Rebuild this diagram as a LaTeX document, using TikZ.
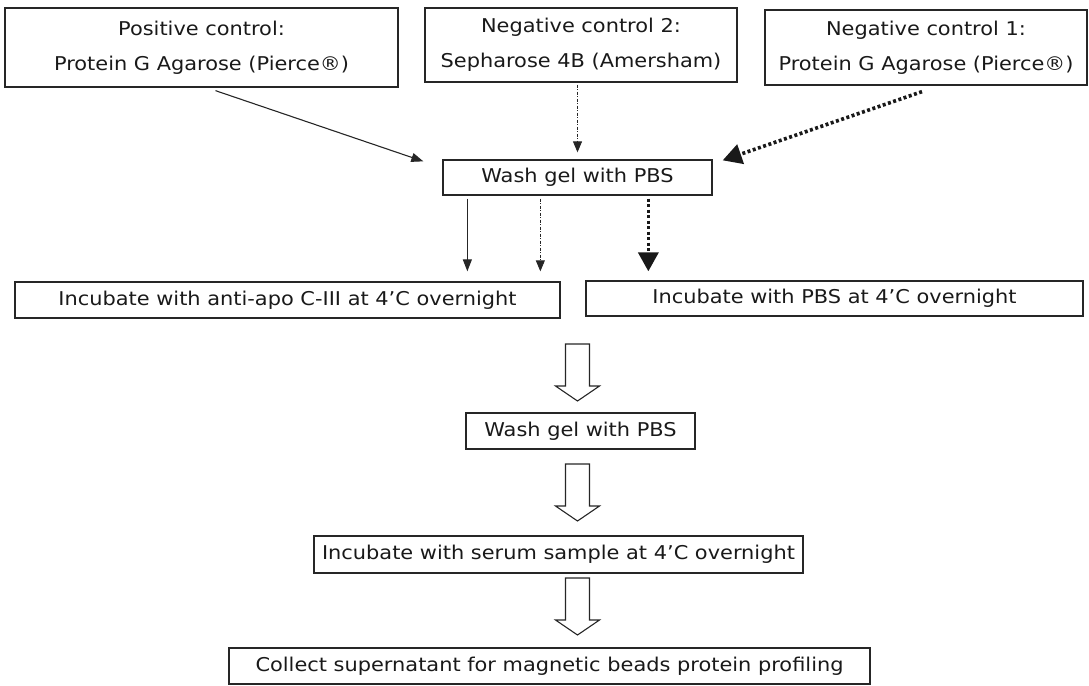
\documentclass[tikz,border=0pt]{standalone}
\usepackage{fontspec}
\setmainfont[FakeStretch=1.1]{DejaVu Sans}
\usetikzlibrary{arrows.meta,calc}
\begin{document}
\begin{tikzpicture}[x=1pt,y=-1pt,
  box/.style={draw=black!85, line width=1.3pt, inner sep=0pt, align=center,
    font=\fontsize{19}{35}\selectfont, text=black!90},
  thinarr/.style={draw=black!85, line width=1.1pt, -{Triangle[length=12pt,width=9pt]}},
  finearr/.style={draw=black!85, line width=0.9pt, dash pattern=on 3pt off 1.5pt on 1pt off 1.5pt, -{Triangle[length=11pt,width=9pt]}},
  boldarr/.style={draw=black!90, line width=3.6pt, dash pattern=on 3pt off 2.5pt, -{Triangle[length=19pt,width=20pt]}},
  hollow/.style={draw=black!85, line width=1.1pt, fill=white, line join=miter}
]
\useasboundingbox (0,0) rectangle (1089,685);

% top row
\node[box, minimum width=393pt, minimum height=79pt] (pos) at (201.5,47.5)
  {Positive control:\\Protein G Agarose (Pierce®)};
\node[box, minimum width=312pt, minimum height=74pt] (neg2) at (581,45)
  {Negative control 2:\\Sepharose 4B (Amersham)};
\node[box, minimum width=322pt, minimum height=75pt] (neg1) at (926,47.5)
  {Negative control 1:\\Protein G Agarose (Pierce®)};

% wash 1
\node[box, minimum width=269pt, minimum height=35pt] (wash1) at (577.5,177.5) {Wash gel with PBS};

% incubation row
\node[box, minimum width=545pt, minimum height=36pt] (incA) at (287.5,300)
  {Incubate with anti-apo C-III at 4'C overnight};
\node[box, minimum width=497pt, minimum height=35pt] (incP) at (834.5,298.5)
  {Incubate with PBS at 4'C overnight};

\node[box, minimum width=229pt, minimum height=36pt] (wash2) at (580.5,431) {Wash gel with PBS};
\node[box, minimum width=489pt, minimum height=37pt] (serum) at (558.5,554.5)
  {Incubate with serum sample at 4'C overnight};
\node[box, minimum width=641pt, minimum height=36pt] (collect) at (549.5,666)
  {Collect supernatant for magnetic beads protein profiling};

% arrows into wash 1
\draw[thinarr] ([xshift=14pt,yshift=-3pt]pos.south) -- ([xshift=-19pt,yshift=-2pt]wash1.north west);
\draw[finearr, shorten <=2pt, shorten >=7pt] (neg2.south -| wash1.north) -- (wash1.north);
\draw[boldarr] ([xshift=-4pt,yshift=-6pt]neg1.south) -- ([xshift=10pt,yshift=-1pt]wash1.north east);

% arrows out of wash 1
\coordinate (d1) at ([xshift=25pt]wash1.south west);
\coordinate (d2) at ([xshift=98pt]wash1.south west);
\coordinate (d3) at ([xshift=206pt]wash1.south west);
\draw[thinarr, shorten <=3pt, shorten >=10pt] (d1) -- (d1 |- incA.north);
\draw[finearr, shorten <=3pt, shorten >=10pt] (d2) -- (d2 |- incA.north);
\draw[boldarr, shorten <=3pt, shorten >=10pt] (d3) -- (d3 |- incA.north);

% hollow block arrows
\coordinate (h1) at ($(incA.south -| wash1.south)!0.5!(wash2.north -| wash1.south)+(0,7)$);
\coordinate (h2) at ($(wash2.south -| wash1.south)!0.5!(serum.north -| wash1.south)$);
\coordinate (h3) at ($(serum.south -| wash1.south)!0.5!(collect.north -| wash1.south)+(0,-4)$);
\foreach \h in {h1,h2,h3}{
  \draw[hollow] (\h) ++(-12,-28.5) -- ++(24,0) -- ++(0,42) -- ++(10,0)
     -- ++(-22,15) -- ++(-22,-15) -- ++(10,0) -- cycle;
}
\end{tikzpicture}
\end{document}
